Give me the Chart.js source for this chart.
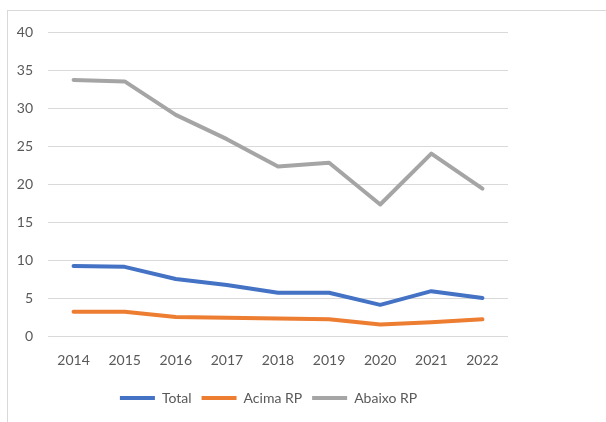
<!DOCTYPE html>
<html>
<head>
<meta charset="utf-8">
<script src="https://cdn.jsdelivr.net/npm/chart.js@4"></script>
<style>
  html, body { margin: 0; padding: 0; background: #fff; overflow: hidden; }
  #frame {
    position: absolute; left: 7px; top: 10px; width: 640px; height: 460px;
    border: 1px solid #d9d9d9; box-sizing: border-box;
  }
  #wrap { position: absolute; left: 0; top: 0; width: 606px; height: 422px; }
</style>
</head>
<body>
<div id="frame"></div>
<div id="wrap"><canvas id="chart" width="606" height="422"></canvas></div>
<script>
const years = ['2014', '2015', '2016', '2017', '2018', '2019', '2020', '2021', '2022'];
const total = [9.2, 9.1, 7.5, 6.7, 5.7, 5.7, 4.1, 5.9, 5.0];
const acimaRP = [3.2, 3.2, 2.5, 2.4, 2.3, 2.2, 1.5, 1.8, 2.2];
const abaixoRP = [33.7, 33.5, 29.1, 25.9, 22.3, 22.8, 17.3, 24.0, 19.4];
const yTicks = [0, 5, 10, 15, 20, 25, 30, 35, 40];

function start() {
    const textColor = '#595959';
    const font = { family: 'Lato', size: 14 };

    function line(label, data, color) {
        return {
            label: label,
            data: data,
            borderColor: color,
            backgroundColor: color,
            borderWidth: 4,
            pointRadius: 0,
            tension: 0,
            borderJoinStyle: 'round',
            borderCapStyle: 'round'
        };
    }

    // move the legend block a bit right so it sits under the plot, not the page
    const legendShift = {
        id: 'legendShift',
        afterLayout(chart) {
            chart.legend.left += 29;
        }
    };

    const ctx = document.getElementById('chart').getContext('2d');
    new Chart(ctx, {
        type: 'line',
        data: {
            labels: years,
            datasets: [
                line('Total', total, '#4472c4'),
                line('Acima RP', acimaRP, '#ed7d31'),
                line('Abaixo RP', abaixoRP, '#a5a5a5')
            ]
        },
        options: {
            responsive: false,
            animation: false,
            layout: { padding: { left: 0, right: 98, top: 32, bottom: 7 } },
            scales: {
                x: {
                    offset: true,
                    afterFit: (axis) => { axis.height = 45; },
                    grid: { display: false, drawTicks: false },
                    border: { display: false },
                    ticks: { color: textColor, font: font, padding: 16, maxRotation: 0 }
                },
                y: {
                    min: 0,
                    max: 40,
                    afterFit: (axis) => { axis.width = 48; },
                    afterBuildTicks: (axis) => { axis.ticks = yTicks.map(v => ({ value: v })); },
                    grid: { color: '#d9d9d9', lineWidth: 1, drawTicks: false },
                    border: { display: false },
                    ticks: { color: textColor, font: font, padding: 15 }
                }
            },
            plugins: {
                tooltip: { enabled: false },
                legend: {
                    position: 'bottom',
                    labels: {
                        color: textColor,
                        font: font,
                        boxWidth: 35,
                        boxHeight: 4,
                        padding: 10,
                        generateLabels: (chart) => chart.data.datasets.map((ds, i) => ({
                            text: ds.label,
                            fillStyle: ds.borderColor,
                            strokeStyle: ds.borderColor,
                            lineWidth: 0,
                            fontColor: textColor,
                            datasetIndex: i
                        }))
                    }
                }
            }
        },
        plugins: [legendShift]
    });
}

window.addEventListener('load', start, false);
</script>
</body>
</html>
